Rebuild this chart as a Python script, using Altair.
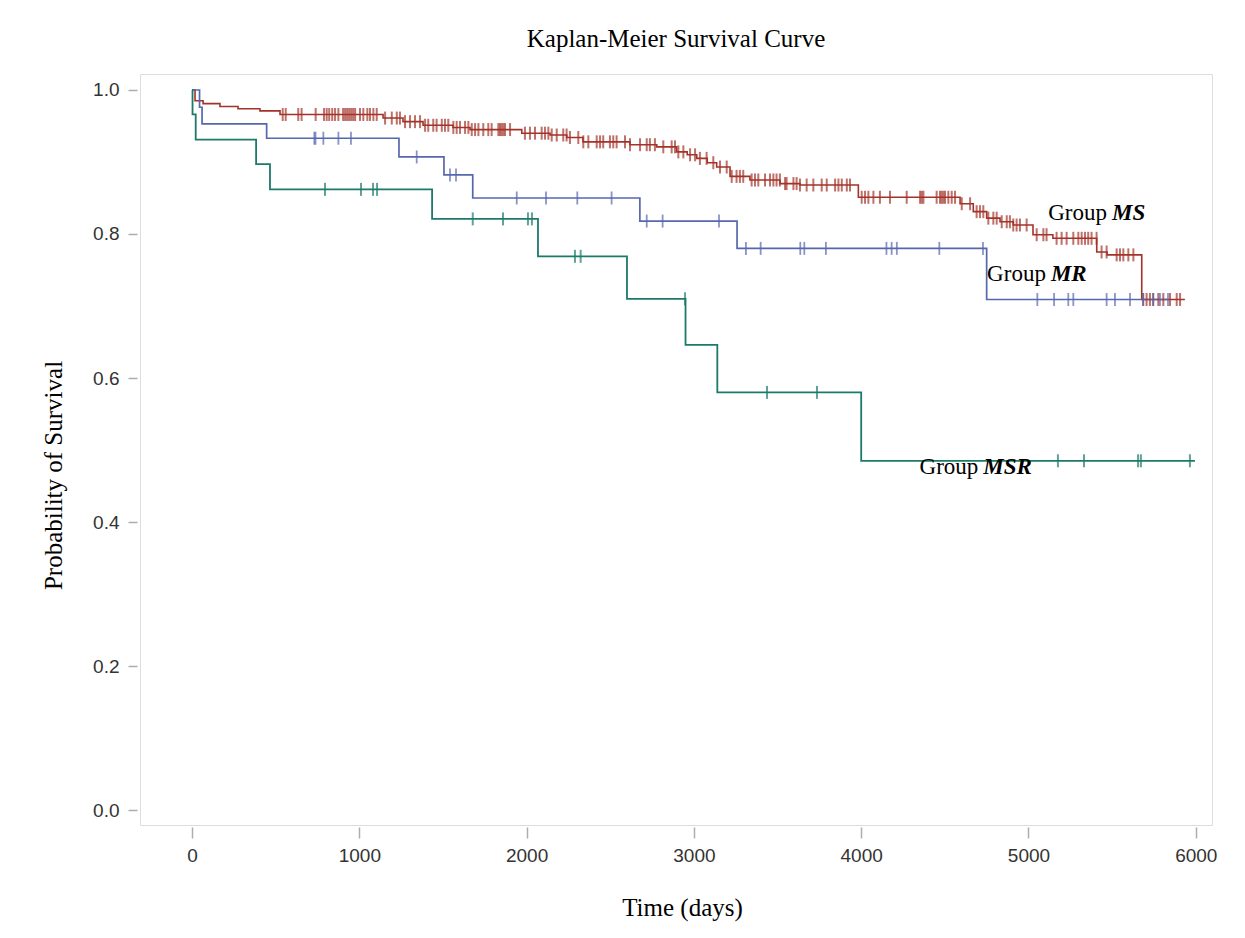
import altair as alt
import numpy as np
import pandas as pd

# ---- Group MS (red) ----
ms_time = [0, 18, 66, 167, 275, 406, 526, 1142, 1261, 1381, 1560, 1662, 1971, 2140,
           2240, 2337, 2618, 2778, 2897, 2960, 3017, 3080, 3136, 3216, 3335, 3515,
           3634, 3983, 4591, 4670, 4750, 4830, 4909, 5027, 5146, 5408, 5470, 5677, 5935]
ms_surv = [1.0, 0.985, 0.981, 0.977, 0.974, 0.971, 0.966, 0.961, 0.956, 0.951, 0.948,
           0.945, 0.940, 0.9375, 0.934, 0.928, 0.924, 0.921, 0.914, 0.910, 0.905, 0.899,
           0.893, 0.880, 0.875, 0.870, 0.868, 0.851, 0.842, 0.831, 0.822, 0.817, 0.8125,
           0.799, 0.794, 0.775, 0.771, 0.709, 0.709]
ms_censor = [542, 560, 635, 655, 739, 789, 805, 820, 838, 855, 875, 903, 915, 927, 939,
             951, 963, 975, 1004, 1024, 1048, 1064, 1084, 1104, 1154, 1194, 1224, 1243,
             1273, 1303, 1333, 1363, 1393, 1412, 1442, 1462, 1493, 1512, 1532, 1562,
             1582, 1602, 1632, 1652, 1672, 1692, 1712, 1741, 1771, 1791, 1831, 1841,
             1851, 1861, 1871, 1901, 1990, 2020, 2050, 2090, 2110, 2130, 2150, 2180,
             2219, 2239, 2259, 2309, 2339, 2369, 2419, 2439, 2458, 2498, 2518, 2538,
             2588, 2618, 2678, 2718, 2737, 2767, 2817, 2867, 2887, 2907, 2937, 2977,
             3007, 3036, 3076, 3116, 3156, 3196, 3226, 3255, 3275, 3295, 3345, 3365,
             3385, 3425, 3455, 3475, 3494, 3514, 3545, 3554, 3595, 3614, 3634, 3674,
             3714, 3764, 3794, 3844, 3864, 3884, 3914, 3933, 4003, 4023, 4043, 4073,
             4112, 4172, 4272, 4352, 4362, 4372, 4451, 4471, 4481, 4491, 4501, 4521,
             4541, 4561, 4601, 4651, 4690, 4710, 4730, 4760, 4790, 4810, 4840, 4870,
             4889, 4909, 4929, 4949, 4989, 5049, 5089, 5108, 5168, 5198, 5228, 5268,
             5298, 5318, 5338, 5357, 5377, 5407, 5437, 5467, 5527, 5547, 5567, 5597,
             5627, 5686, 5706, 5726, 5746, 5776, 5806, 5846, 5886, 5906]

# ---- Group MR (blue) ----
mr_time = [0, 45, 60, 446, 1237, 1506, 1678, 2677, 3258, 4750, 5834]
mr_surv = [1.0, 0.976, 0.953, 0.933, 0.907, 0.882, 0.850, 0.818, 0.780, 0.709, 0.709]
mr_censor = [731, 738, 785, 875, 950, 1343, 1542, 1578, 1941, 2116, 2303, 2508, 2718,
             2813, 3150, 3311, 3399, 3636, 3660, 3789, 4151, 4182, 4213, 4467, 4728,
             5053, 5153, 5238, 5268, 5467, 5517, 5607, 5685, 5745, 5786, 5834]

# ---- Group MSR (green) ----
msr_time = [0, 3, 22, 383, 466, 1435, 2068, 2600, 2950, 3140, 4000, 5995]
msr_surv = [1.0, 0.966, 0.931, 0.897, 0.862, 0.821, 0.769, 0.710, 0.646, 0.580, 0.485, 0.485]
msr_censor = [795, 1010, 1082, 1106, 1678, 1859, 2008, 2032, 2289, 2323, 2947, 3437,
              3736, 5176, 5332, 5655, 5672, 5965]

group_names = ["MS", "MR", "MSR"]
group_colors = ["#A3332A", "#5767AE", "#1C7A6B"]
group_widths = [1.6, 1.8, 2.5]
tick_widths = [2.0, 1.8, 2.0]

label_time = [5499, 5134, 4730]
label_surv = [0.829, 0.744, 0.476]

x_ticks = [0, 1000, 2000, 3000, 4000, 5000, 6000]
y_ticks = [0.0, 0.2, 0.4, 0.6, 0.8, 1.0]


def steps(name, t, s):
    return pd.DataFrame({"group": name, "time": t, "surv": s})


def censored(name, t, s, c):
    idx = np.searchsorted(np.array(t), np.array(c), side="right") - 1
    return pd.DataFrame({"group": name, "time": c, "surv": np.array(s)[idx]})


step_df = pd.concat([steps("MS", ms_time, ms_surv),
                     steps("MR", mr_time, mr_surv),
                     steps("MSR", msr_time, msr_surv)], ignore_index=True)
cens_df = pd.concat([censored("MS", ms_time, ms_surv, ms_censor),
                     censored("MR", mr_time, mr_surv, mr_censor),
                     censored("MSR", msr_time, msr_surv, msr_censor)], ignore_index=True)
label_df = pd.DataFrame({"group": group_names, "time": label_time, "surv": label_surv})

xscale = alt.Scale(domain=[-311, 6097], nice=False, zero=False)
yscale = alt.Scale(domain=[-0.0208, 1.0222], nice=False, zero=False)
cscale = alt.Scale(domain=group_names, range=group_colors)

xaxis = alt.Axis(values=x_ticks, format="d", title="Time (days)", grid=False, domain=False,
                 labelFont="Liberation Sans", labelFontSize=19, labelColor="#333333",
                 tickColor="#A8AEB2", tickSize=11, tickWidth=1.5, offset=2, labelPadding=8,
                 titleFont="Liberation Serif", titleFontSize=25, titleFontWeight="normal",
                 titleColor="#000000", titleX=542, titleY=80, titleBaseline="middle")
yaxis = alt.Axis(values=y_ticks, format=".1f", title="Probability of Survival", grid=False,
                 domain=False, labelFont="Liberation Sans", labelFontSize=19,
                 labelColor="#333333", tickColor="#A8AEB2", tickSize=9, tickWidth=1.5,
                 offset=3, labelPadding=9, titleFont="Liberation Serif", titleFontSize=25,
                 titleFontWeight="normal", titleColor="#000000", titleX=-84, titleY=401,
                 titleBaseline="middle", titleAngle=-90)

base_x = alt.X("time:Q", scale=xscale, axis=xaxis)
base_y = alt.Y("surv:Q", scale=yscale, axis=yaxis)

lines = alt.Chart(step_df).mark_line(interpolate="step-after").encode(
    x=base_x,
    y=base_y,
    color=alt.Color("group:N", scale=cscale, legend=None),
    strokeWidth=alt.StrokeWidth("group:N", scale=alt.Scale(domain=group_names, range=group_widths), legend=None),
)

ticks = alt.Chart(cens_df).mark_tick(orient="vertical", size=13).encode(
    x=alt.X("time:Q", scale=xscale),
    y=alt.Y("surv:Q", scale=yscale),
    color=alt.Color("group:N", scale=cscale, legend=None),
    strokeWidth=alt.value(0),
)

tick_layers = []
for name, tw in zip(group_names, tick_widths):
    tick_layers.append(
        alt.Chart(cens_df[cens_df["group"] == name]).mark_tick(
            orient="vertical", size=13, thickness=tw
        ).encode(
            x=alt.X("time:Q", scale=xscale),
            y=alt.Y("surv:Q", scale=yscale),
            color=alt.Color("group:N", scale=cscale, legend=None),
        )
    )

label_plain = alt.Chart(label_df).mark_text(
    text="Group", align="right", baseline="middle", dx=-5,
    font="Liberation Serif", fontSize=23, color="#000000"
).encode(x=alt.X("time:Q", scale=xscale), y=alt.Y("surv:Q", scale=yscale))

label_bold = alt.Chart(label_df).mark_text(
    align="left", baseline="middle", dx=0, font="Liberation Serif", fontSize=23,
    fontStyle="italic", fontWeight="bold", color="#000000"
).encode(x=alt.X("time:Q", scale=xscale), y=alt.Y("surv:Q", scale=yscale), text="group:N")

chart = alt.layer(lines, *tick_layers, label_plain, label_bold).properties(
    width=1072,
    height=751,
    title=alt.TitleParams("Kaplan-Meier Survival Curve", font="Liberation Serif", fontSize=25,
                          fontWeight="normal", color="#000000", anchor="middle", offset=22),
    autosize=alt.AutoSizeParams(type="none"),
    padding={"left": 132, "top": 66, "right": 25, "bottom": 105},
).configure_view(stroke="#B0B8BC", strokeWidth=1.5).configure(background="white")

chart.save("out.html", embed_options={"renderer": "svg", "actions": False})
